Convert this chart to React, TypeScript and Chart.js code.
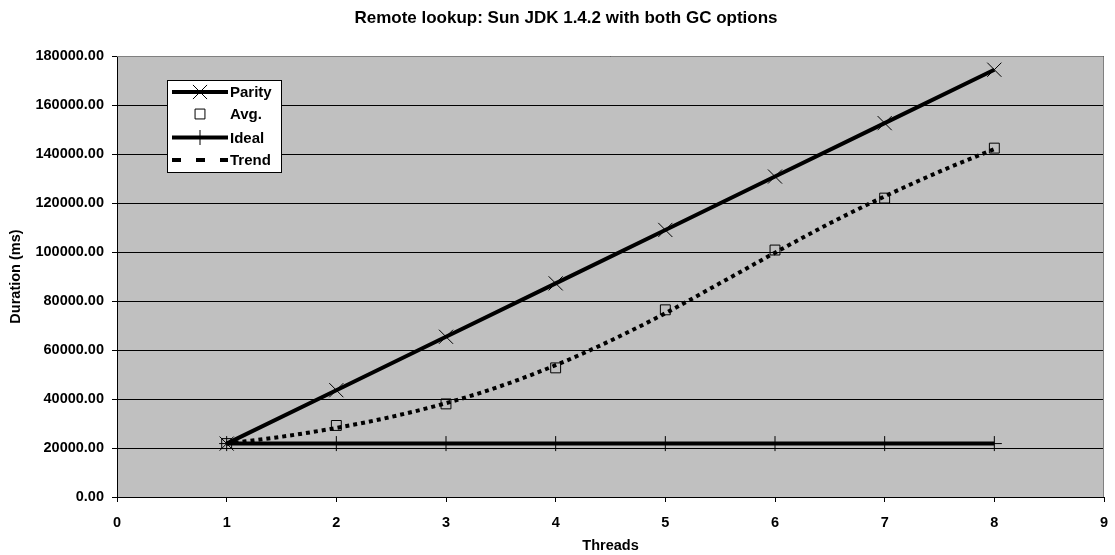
import React, { useEffect, useRef } from "react";
import { Chart, registerables } from "chart.js";

Chart.register(...registerables);

const TITLE = "Remote lookup: Sun JDK 1.4.2 with both GC options";
const X_TITLE = "Threads";
const Y_TITLE = "Duration (ms)";

const threads = [1, 2, 3, 4, 5, 6, 7, 8];
const parity = [21800, 43600, 65400, 87200, 109000, 130800, 152600, 174400];
const avg = [21800, 29200, 38000, 52700, 76400, 100800, 122000, 142400];
const ideal = [21800, 21800, 21800, 21800, 21800, 21800, 21800, 21800];
const trendX = [1, 1.5, 2, 2.5, 3, 3.5, 4, 4.5, 5, 5.5, 6, 6.5, 7, 7.5, 8];
const trend = [21800, 24600, 28200, 32700, 38300, 45300, 53800, 63800, 75000, 87300, 99700, 111700, 122700, 132800, 142000];

const FONT = "'Liberation Sans', Arial, sans-serif";
const TICK_FONT = { family: FONT, size: 14.5, weight: "bold" };

const toPoints = (xs: number[], ys: number[]) => xs.map((x, i) => ({ x, y: ys[i] }));

// Legend marker glyphs, sized like the chart's point styles
function marker(ctx: CanvasRenderingContext2D, style: string, r: number, x: number, y: number) {
  ctx.beginPath();
  if (style === "crossRot") {
    const d = r * Math.SQRT1_2;
    ctx.moveTo(x - d, y - d);
    ctx.lineTo(x + d, y + d);
    ctx.moveTo(x - d, y + d);
    ctx.lineTo(x + d, y - d);
  } else if (style === "cross") {
    ctx.moveTo(x, y - r);
    ctx.lineTo(x, y + r);
    ctx.moveTo(x - r, y);
    ctx.lineTo(x + r, y);
  } else if (style === "rect") {
    const s = r * Math.SQRT1_2;
    ctx.rect(x - s, y - s, 2 * s, 2 * s);
  }
  ctx.stroke();
}

// Grey plot area, its frame, the title and the boxed legend
const decorations = {
  id: "decorations",
  beforeDraw(chart: any) {
    const { ctx, chartArea: a } = chart;
    ctx.save();
    ctx.fillStyle = "#ffffff";
    ctx.fillRect(0, 0, chart.width, chart.height);
    ctx.fillStyle = "#c0c0c0";
    ctx.fillRect(a.left, a.top, a.right - a.left, a.bottom - a.top);
    ctx.fillStyle = "#000";
    ctx.font = `bold 17px ${FONT}`;
    ctx.textAlign = "center";
    ctx.textBaseline = "middle";
    ctx.fillText(TITLE, 566, 18);
    ctx.restore();
  },
  beforeDatasetsDraw(chart: any) {
    const { ctx, chartArea: a } = chart;
    ctx.save();
    ctx.strokeStyle = "#808080";
    ctx.lineWidth = 1;
    ctx.beginPath();
    ctx.moveTo(a.left, a.top + 0.5);
    ctx.lineTo(a.right - 0.5, a.top + 0.5);
    ctx.lineTo(a.right - 0.5, a.bottom);
    ctx.stroke();
    ctx.restore();
  },
  afterDraw(chart: any) {
    const { ctx } = chart;
    const bx = 167, by = 80, bw = 114, bh = 92;
    ctx.save();
    ctx.fillStyle = "#fff";
    ctx.fillRect(bx, by, bw, bh);
    ctx.strokeStyle = "#000";
    ctx.lineWidth = 1;
    ctx.strokeRect(bx + 0.5, by + 0.5, bw, bh);
    const rows = [92, 114, 137.5, 160];
    chart.data.datasets.forEach((ds: any, i: number) => {
      const y = rows[i];
      if (ds.showLine !== false) {
        ctx.save();
        ctx.strokeStyle = ds.borderColor;
        ctx.lineWidth = ds.borderWidth;
        ctx.setLineDash(ds.borderDash ? [9, 15] : []);
        ctx.beginPath();
        ctx.moveTo(172, y);
        ctx.lineTo(228, y);
        ctx.stroke();
        ctx.restore();
      }
      if (ds.pointRadius > 0) {
        ctx.save();
        ctx.strokeStyle = ds.pointBorderColor;
        ctx.lineWidth = ds.pointBorderWidth;
        marker(ctx, ds.pointStyle, ds.pointRadius, 200, y);
        ctx.restore();
      }
      ctx.fillStyle = "#000";
      ctx.font = `bold 15px ${FONT}`;
      ctx.textAlign = "left";
      ctx.textBaseline = "middle";
      ctx.fillText(ds.label, 230, y + 1);
    });
    ctx.restore();
  },
};

export default function App() {
  const ref = useRef<HTMLCanvasElement>(null);
  useEffect(() => {
    if (!ref.current) return;
    const chart = new Chart(ref.current, {
      type: "line",
      data: {
        datasets: [
          {
            label: "Parity",
            data: toPoints(threads, parity),
            borderColor: "#000",
            borderWidth: 4,
            pointStyle: "crossRot",
            pointRadius: 10,
            pointBorderColor: "#000",
            pointBorderWidth: 1,
            backgroundColor: "transparent",
          },
          {
            label: "Avg.",
            data: toPoints(threads, avg),
            showLine: false,
            borderColor: "#000",
            borderWidth: 1,
            pointStyle: "rect",
            pointRadius: 7,
            pointBorderColor: "#000",
            pointBorderWidth: 1,
            pointBackgroundColor: "transparent",
            backgroundColor: "transparent",
          },
          {
            label: "Ideal",
            data: toPoints(threads, ideal),
            borderColor: "#000",
            borderWidth: 4,
            pointStyle: "cross",
            pointRadius: 7.5,
            pointBorderColor: "#000",
            pointBorderWidth: 1,
            backgroundColor: "transparent",
          },
          {
            label: "Trend",
            data: toPoints(trendX, trend),
            borderColor: "#000",
            borderWidth: 4,
            borderDash: [4, 4],
            pointRadius: 0,
            pointBorderColor: "#000",
            pointBorderWidth: 1,
            cubicInterpolationMode: "monotone",
            backgroundColor: "transparent",
          },
        ],
      } as any,
      options: {
        responsive: false,
        animation: false,
        layout: { padding: { top: 56, right: 10, left: 0, bottom: 0 } },
        plugins: {
          legend: { display: false },
          title: { display: false },
          tooltip: { enabled: false },
        },
        scales: {
          x: {
            type: "linear",
            min: 0,
            max: 9,
            ticks: {
              stepSize: 1,
              color: "#000",
              font: TICK_FONT,
              padding: 12,
              maxRotation: 0,
            },
            grid: { drawOnChartArea: false, drawTicks: true, tickLength: 5, color: "#000" },
            border: { color: "#000", width: 1 },
            title: {
              display: true,
              text: X_TITLE,
              color: "#000",
              font: TICK_FONT,
              padding: { top: 0, bottom: 0 },
            },
            afterFit(scale: any) {
              scale.height = 58;
              scale.paddingLeft = 0;
              scale.paddingRight = 0;
            },
          },
          y: {
            min: 0,
            max: 180000,
            ticks: {
              stepSize: 20000,
              color: "#000",
              font: TICK_FONT,
              padding: 8,
              callback: (v: any) => Number(v).toFixed(2),
            },
            grid: { color: "#000", lineWidth: 1, tickLength: 5 },
            border: { color: "#000", width: 1 },
            title: {
              display: true,
              text: Y_TITLE,
              color: "#000",
              font: TICK_FONT,
              padding: { top: 7, bottom: 0 },
            },
            afterFit(scale: any) {
              scale.width = 117;
            },
          },
        },
      } as any,
      plugins: [decorations],
    });
    return () => chart.destroy();
  }, []);
  return (
    <div style={{ position: "fixed", left: 0, top: 0, width: 1115, height: 555, background: "#fff" }}>
      <canvas ref={ref} width={1115} height={555} />
    </div>
  );
}
